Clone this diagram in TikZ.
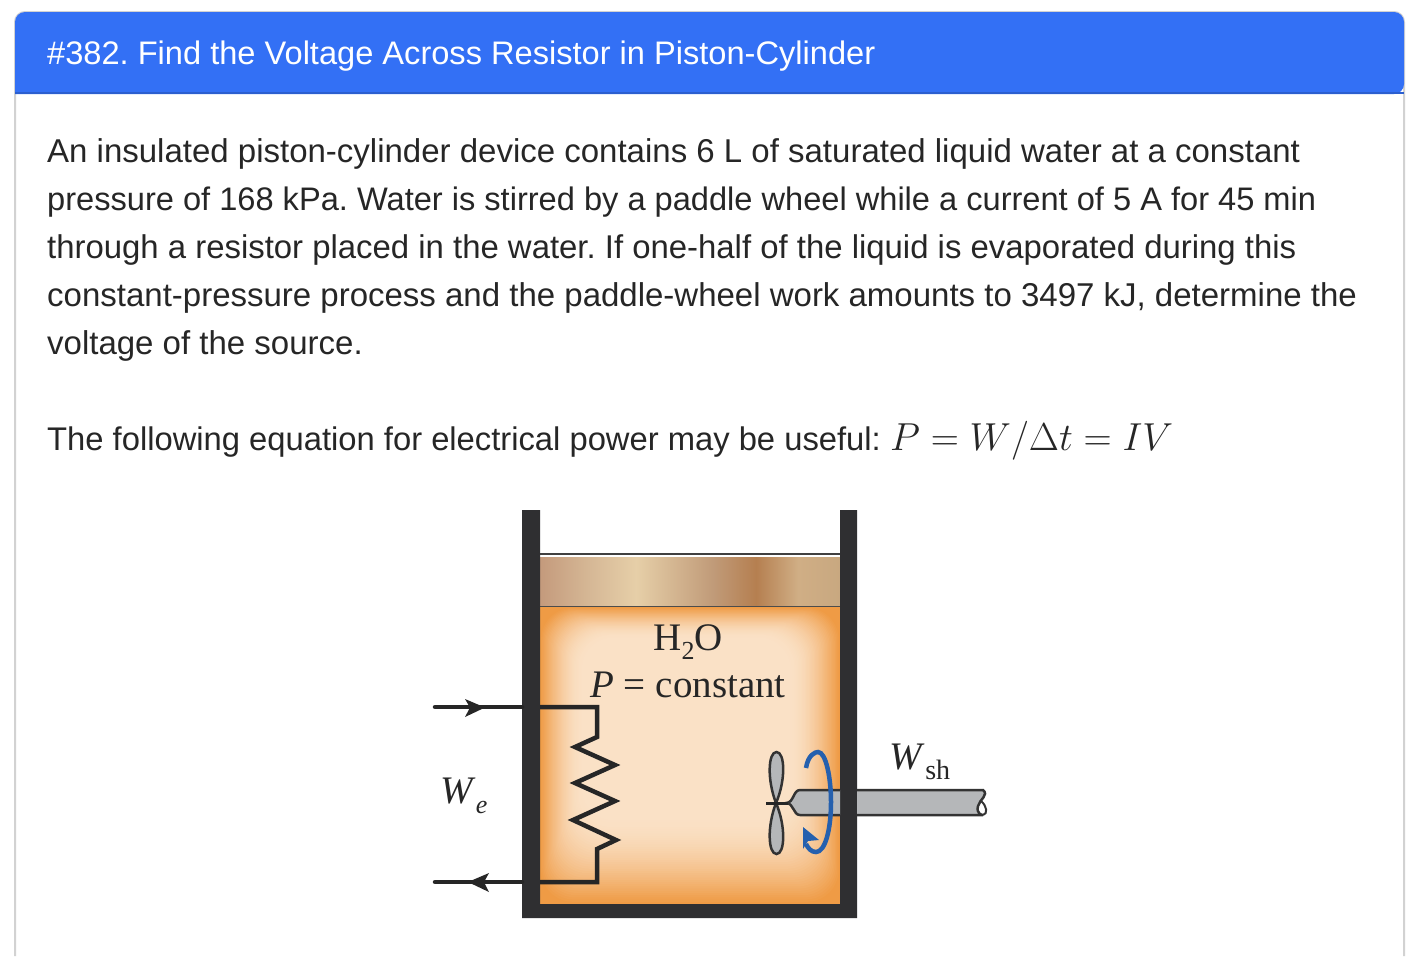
\documentclass[tikz,border=0pt]{standalone}
\usepackage{fix-cm}
\usepackage{fontspec}
\setmainfont{Liberation Sans}
\newfontfamily\labelfont{Liberation Serif}
\usepackage{amsmath}
\usetikzlibrary{arrows.meta, positioning}
\definecolor{headerblue}{HTML}{3370F5}
\definecolor{headeredge}{HTML}{2B5FCF}
\definecolor{cardedge}{HTML}{D2D2D2}
\definecolor{wallgray}{HTML}{2F2F31}
\definecolor{wateredge}{HTML}{EF9B45}
\definecolor{waterpale}{HTML}{FAE1C6}
\definecolor{shaftgray}{HTML}{B5B7B9}
\definecolor{spinblue}{HTML}{2560AE}
\definecolor{pistona}{HTML}{C49A7C}
\definecolor{pistonb}{HTML}{D5B795}
\definecolor{pistonc}{HTML}{E6CFA8}
\definecolor{pistond}{HTML}{C09A78}
\definecolor{pistone}{HTML}{B57F50}
\definecolor{pistonf}{HTML}{D0AE85}
\definecolor{pistong}{HTML}{C8A880}
\pgfdeclarehorizontalshading{pistonshade}{100bp}{
  color(0bp)=(pistona); color(25bp)=(pistona); color(33bp)=(pistonb);
  color(41bp)=(pistonc); color(54bp)=(pistond); color(61bp)=(pistone);
  color(68bp)=(pistonf); color(75bp)=(pistong); color(100bp)=(pistong)}
\tikzset{
  bodytext/.style={inner sep=0pt, anchor=base west, font=\fontsize{#1}{33}\selectfont\frenchspacing, text=black!85},
  bodytext/.default=33,
  labeltext/.style={inner sep=0pt, font=\fontsize{39}{39}\labelfont, text=black!85},
  wire/.style={draw=black!85, line width=4.5pt},
  paddle/.style={draw=black!80, line width=2.5pt, fill=shaftgray},
}
\begin{document}
\begin{tikzpicture}[x=1pt,y=-1pt]
    \useasboundingbox (0,0) rectangle (1412,956);
    \fill[white] (0,0) rectangle (1412,956);
    % card and header
    \draw[cardedge, line width=2pt, rounded corners=10pt] (15,956) -- (15,12) -- (1404,12) -- (1404,956);
    \fill[headerblue] (15,94) [rounded corners=10pt] -- (15,12) -- (1404,12) -- (1404,94) [sharp corners] -- cycle;
    \fill[headeredge] (15,92) rectangle (1404,94);
    \node [bodytext=32.6, text=white] (title) at (47,64) {\#382. Find the Voltage Across Resistor in Piston-Cylinder};
    % problem text
    \node [bodytext] (line1) at (47,162) {An insulated piston-cylinder device contains 6 L of saturated liquid water at a constant};
    \node [bodytext=32.6, below=48pt of line1.base west, anchor=base west] (line2) {pressure of 168 kPa. Water is stirred by a paddle wheel while a current of 5 A for 45 min};
    \node [bodytext=32.9, below=48pt of line2.base west, anchor=base west] (line3) {through a resistor placed in the water. If one-half of the liquid is evaporated during this};
    \node [bodytext, below=48pt of line3.base west, anchor=base west] (line4) {constant-pressure process and the paddle-wheel work amounts to 3497 kJ, determine the};
    \node [bodytext, below=48pt of line4.base west, anchor=base west] (line5) {voltage of the source.};
    \node [bodytext=32.75, below=96pt of line5.base west, anchor=base west] (line6) {The following equation for electrical power may be useful: {\fontsize{39}{39}\selectfont$P = W/\Delta t = IV$}};
    % water
    \fill[wateredge] (540,607) rectangle (840,904);
    \foreach \i in {1,...,40} {
        \pgfmathsetmacro\mixval{100*sin(90*\i/40)}
        \fill[waterpale!\mixval!wateredge, rounded corners=32pt]
            (540+1.1*\i,607+0.8*\i) rectangle (840-1.3*\i,904-2.2*\i);
    }
    % piston
    \draw[black!75, line width=2pt] (540,554) -- (840,554);
    \shade[shading=pistonshade] (540,557) rectangle (840,606);
    \draw[black!70, line width=1.5pt] (540,606.5) -- (840,606.5);
    % cylinder
    \fill[wallgray] (522,510) -- (540,510) -- (540,904) -- (840,904) -- (840,510) -- (857,510) -- (857,918) -- (522,918) -- cycle;
    % resistor
    \coordinate (in_a) at (435,707);
    \coordinate (in_b) at (522,707);
    \coordinate (out_a) at (522,882);
    \coordinate (out_b) at (435,882);
    \coordinate (res_a) at (540,707);
    \coordinate (res_b) at (540,882);
    \draw[wire, line join=miter] (res_a) -- (597,707) -- (597,737) -- (575,747) -- (615,765) -- (575,783) -- (615,801) -- (573,820) -- (616,840) -- (597,849) -- (597,882) -- (res_b);
    \draw[wire, line cap=round] (in_a) -- (in_b);
    \draw[wire, line cap=round] (out_a) -- (out_b);
    \fill[black!85] (465,699) -- (485,707.5) -- (465,717) -- (470,707.5) -- cycle;
    \fill[black!85] (489,873) -- (468,882) -- (489,892) -- (484,882) -- cycle;
    % shaft
    \draw[paddle] (840,790) -- (800,790) .. controls (793,790) and (794,803) .. (786,803)
        .. controls (794,803) and (793,815) .. (800,815) -- (840,815);
    \draw[paddle] (857,790) -- (983,790) .. controls (989,795) and (980,799) .. (978,806)
        .. controls (976,814) and (982,815) .. (983,815) -- (857,815);
    \draw[black!80, line width=2pt] (983,815) .. controls (988,814) and (987,806) .. (981,801);
    % paddle wheel
    \draw[paddle] (776,803) .. controls (767,780) and (768,752) .. (776.5,752) .. controls (785,752) and (786,780) .. (776,803)
        .. controls (767,826) and (768,854) .. (776.5,854) .. controls (785,854) and (786,826) .. (776,803);
    \draw[black!85, line width=3pt] (766,803) -- (788,803);
    % rotation
    \draw[spinblue, line width=4.5pt] (806,768) .. controls (808,755) and (815,752) .. (818,752)
        .. controls (826,752) and (831,778) .. (831,802) .. controls (831,830) and (825,852) .. (816,852)
        .. controls (811,852) and (808,848) .. (806,844);
    \fill[spinblue] (803,827) -- (819,840) -- (808,841) -- (803,849) -- cycle;
    % labels
    \node [labeltext] (water) at (688,642) {H\raisebox{-0.25em}{\fontsize{26}{26}\selectfont 2}O};
    \node [labeltext, below=43pt of water.center, anchor=center] (press) {\textit{P} = constant};
    \node [labeltext] (we) at (464,796) {\textit{W}\raisebox{-0.25em}{\fontsize{26}{26}\selectfont\textit{e}}};
    \node [labeltext] (wsh) at (920,762) {\textit{W}\raisebox{-0.25em}{\fontsize{28}{28}\selectfont sh}};
\end{tikzpicture}
\end{document}
